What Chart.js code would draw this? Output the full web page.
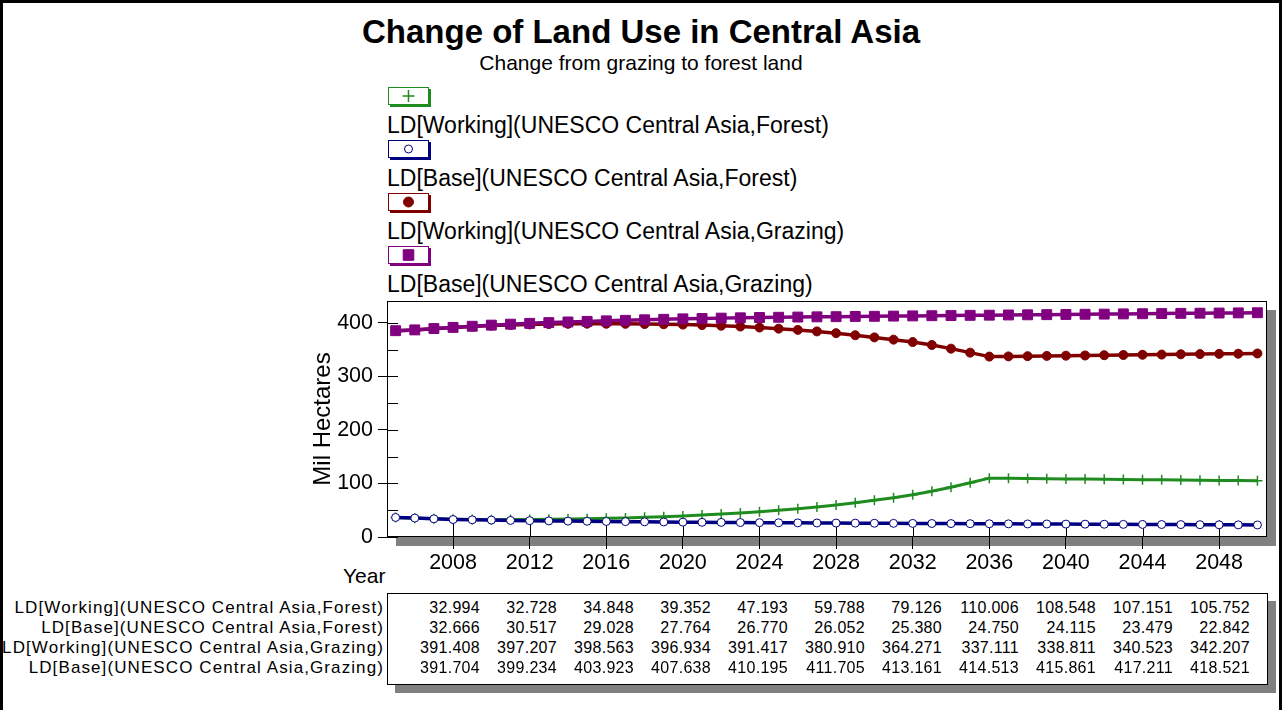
<!DOCTYPE html>
<html>
<head>
<meta charset="utf-8">
<title>Change of Land Use in Central Asia</title>
<script src="https://cdn.jsdelivr.net/npm/chart.js@4.4.1/dist/chart.umd.min.js"></script>
<style>
  body { margin: 0; background: #fff; }
  #page { position: relative; width: 1282px; height: 710px; overflow: hidden; background: #fff;
          font-family: Arial, "Liberation Sans", sans-serif; color: #000; }
  #frame { position: absolute; left: 0; top: 0; width: 1282px; height: 740px; box-sizing: border-box; border: 3px solid #000; }
  .txt { position: absolute; white-space: nowrap; }
  #title { left: 0; width: 1282px; text-align: center; top: 13px; font-size: 33px; font-weight: bold; line-height: 38px; }
  #subtitle { left: 0; width: 1282px; text-align: center; top: 50px; font-size: 21px; line-height: 26px; }
  .lgbox { position: absolute; left: 388px; width: 41px; height: 18px; background: #fff; box-sizing: border-box; }
  .lgtext { position: absolute; left: 387px; font-size: 23px; line-height: 26px; white-space: nowrap; }
  #yearlbl { left: 343px; top: 563px; font-size: 21px; line-height: 26px; }
  #table { position: absolute; left: 387px; top: 593px; width: 881px; height: 92px; box-sizing: border-box;
           border: 1px solid #000; background: #fff; box-shadow: 8px 8px 0 #808080; }
  .rowlbl { position: absolute; left: 0; width: 384px; text-align: right; font-size: 17px; line-height: 20px; letter-spacing: 1.1px; white-space: nowrap; }
  .cell { position: absolute; width: 90px; text-align: right; font-size: 16px; line-height: 20px; letter-spacing: 0.3px; white-space: nowrap; }
  #chart { position: absolute; left: 0; top: 0; }
</style>
</head>
<body>
<div id="page">
  <div id="frame"></div>
  <div class="txt" id="title">Change of Land Use in Central Asia</div>
  <div class="txt" id="subtitle">Change from grazing to forest land</div>
  <div id="legend"></div>
  <div class="txt" id="yearlbl">Year</div>
  <div id="table"></div>
  <div id="rows"></div>
  <canvas id="chart" width="1282" height="710"></canvas>
</div>
<script>
// years on the x axis
const years = [2005, 2006, 2007, 2008, 2009, 2010, 2011, 2012, 2013, 2014, 2015, 2016, 2017, 2018, 2019, 2020,
  2021, 2022, 2023, 2024, 2025, 2026, 2027, 2028, 2029, 2030, 2031, 2032, 2033, 2034, 2035, 2036,
  2037, 2038, 2039, 2040, 2041, 2042, 2043, 2044, 2045, 2046, 2047, 2048, 2049, 2050];

const seriesLabels = [
  'LD[Working](UNESCO Central Asia,Forest)',
  'LD[Base](UNESCO Central Asia,Forest)',
  'LD[Working](UNESCO Central Asia,Grazing)',
  'LD[Base](UNESCO Central Asia,Grazing)'
];

// Mil Hectares
const workingForest = [36.5, 35.2, 34.0, 32.994, 32.6, 32.4, 32.5, 32.728, 33.1, 33.6, 34.2, 34.848, 35.7, 36.8, 38.0, 39.352,
  41.0, 42.8, 44.9, 47.193, 49.8, 52.6, 56.0, 59.788, 64.0, 68.5, 73.5, 79.126, 85.5, 93.0, 101.5, 110.006,
  109.7, 109.3, 108.9, 108.548, 108.2, 107.8, 107.5, 107.151, 106.8, 106.4, 106.1, 105.752, 105.4, 105.1];
const baseForest = [36.5, 35.4, 34.0, 32.666, 32.1, 31.6, 31.0, 30.517, 30.1, 29.7, 29.4, 29.028, 28.7, 28.4, 28.1, 27.764,
  27.5, 27.3, 27.0, 26.770, 26.6, 26.4, 26.2, 26.052, 25.9, 25.7, 25.5, 25.380, 25.2, 25.1, 24.9, 24.750,
  24.6, 24.4, 24.3, 24.115, 24.0, 23.8, 23.6, 23.479, 23.3, 23.2, 23.0, 22.842, 22.7, 22.5];
const workingGrazing = [385.4, 387.0, 389.3, 391.408, 393.3, 395.0, 396.3, 397.207, 397.9, 398.4, 398.6, 398.563, 398.4, 398.0, 397.5, 396.934,
  396.0, 394.8, 393.3, 391.417, 389.3, 387.0, 384.2, 380.910, 377.0, 373.0, 368.8, 364.271, 358.8, 352.0, 344.5, 337.111,
  337.5, 337.9, 338.4, 338.811, 339.2, 339.7, 340.1, 340.523, 340.9, 341.4, 341.8, 342.207, 342.5, 342.9];
const baseGrazing = [385.5, 387.0, 389.5, 391.704, 393.8, 395.9, 397.7, 399.234, 400.6, 401.8, 402.9, 403.923, 404.9, 405.9, 406.8, 407.638,
  408.3, 409.0, 409.6, 410.195, 410.6, 411.0, 411.4, 411.705, 412.1, 412.4, 412.8, 413.161, 413.5, 413.8, 414.2, 414.513,
  414.9, 415.2, 415.5, 415.861, 416.2, 416.5, 416.9, 417.211, 417.5, 417.9, 418.2, 418.521, 418.8, 419.1];

const xTickValues = [2008, 2012, 2016, 2020, 2024, 2028, 2032, 2036, 2040, 2044, 2048];
const yTickValues = [0, 50, 100, 150, 200, 250, 300, 350, 400];
const tableYears = [2008, 2012, 2016, 2020, 2024, 2028, 2032, 2036, 2040, 2044, 2048];

const seriesData = [workingForest, baseForest, workingGrazing, baseGrazing];
const colors = ['#1f8c1f', '#000080', '#800000', '#800080'];
const styles = [
  { pointStyle: 'cross', radius: 5, legendRadius: 6, borderWidth: 1.5, lineWidth: 3 },
  { pointStyle: 'circle', radius: 4, legendRadius: 4, borderWidth: 1, lineWidth: 3.5 },
  { pointStyle: 'circle', radius: 4.5, legendRadius: 5, borderWidth: 1, lineWidth: 3.5 },
  { pointStyle: 'rect', radius: 7, legendRadius: 7.5, borderWidth: 1, lineWidth: 3.5 }
];
const drawOrder = [2, 0, 3, 1];

// legend
const legend = document.getElementById('legend');
seriesLabels.forEach((label, i) => {
  const box = document.createElement('div');
  box.className = 'lgbox';
  box.style.top = (87 + i * 53) + 'px';
  box.style.border = '1px solid ' + colors[i];
  box.style.boxShadow = '2px 2px 0 ' + colors[i];
  const c = document.createElement('canvas');
  c.width = 39; c.height = 16;
  box.appendChild(c);
  legend.appendChild(box);
  const ctx = c.getContext('2d');
  ctx.strokeStyle = colors[i];
  ctx.fillStyle = i === 1 ? '#fff' : colors[i];
  ctx.lineWidth = styles[i].borderWidth;
  Chart.helpers.drawPoint(ctx, { pointStyle: styles[i].pointStyle, rotation: 0, radius: styles[i].legendRadius, borderWidth: styles[i].borderWidth }, 19.5, 8);

  const t = document.createElement('div');
  t.className = 'lgtext';
  t.style.top = (112 + i * 53) + 'px';
  t.textContent = label;
  legend.appendChild(t);
});

// data table under the chart
const rows = document.getElementById('rows');
seriesLabels.forEach((label, r) => {
  const top = 598 + r * 20;
  const l = document.createElement('div');
  l.className = 'rowlbl';
  l.style.top = top + 'px';
  l.textContent = label;
  rows.appendChild(l);
  tableYears.forEach((yr, c) => {
    const d = document.createElement('div');
    d.className = 'cell';
    d.style.top = top + 'px';
    d.style.left = (480 + c * 77 - 90) + 'px';
    d.textContent = seriesData[r][years.indexOf(yr)].toFixed(3);
    rows.appendChild(d);
  });
});

const framePlugin = {
  id: 'frame',
  beforeDraw(chart) {
    const { ctx, chartArea: a } = chart;
    ctx.save();
    ctx.fillStyle = '#808080';
    ctx.fillRect(a.left + 9, a.top + 9, a.right - a.left, a.bottom - a.top);
    ctx.fillStyle = '#fff';
    ctx.fillRect(a.left, a.top, a.right - a.left, a.bottom - a.top);
    ctx.restore();
  },
  beforeDatasetsDraw(chart) {
    const { ctx, chartArea: a, scales: { x, y } } = chart;
    ctx.save();
    ctx.strokeStyle = '#000';
    ctx.lineWidth = 1;
    ctx.strokeRect(a.left + 0.5, a.top + 0.5, a.right - a.left - 1, a.bottom - a.top - 1);
    ctx.beginPath();
    yTickValues.forEach(v => {
      const py = Math.round(y.getPixelForValue(v)) + 0.5;
      ctx.moveTo(a.left, py);
      ctx.lineTo(a.left + 11, py);
    });
    xTickValues.forEach(v => {
      const px = Math.round(x.getPixelForValue(v)) + 0.5;
      ctx.moveTo(px, a.bottom);
      ctx.lineTo(px, a.bottom - 17);
    });
    ctx.stroke();
    ctx.restore();
  }
};

Chart.defaults.font.family = 'Arial, "Liberation Sans", sans-serif';
Chart.defaults.color = '#000';

new Chart(document.getElementById('chart').getContext('2d'), {
  type: 'line',
  data: {
    datasets: seriesData.map((vals, i) => ({
      label: seriesLabels[i],
      data: vals.map((v, k) => ({ x: years[k], y: v })),
      borderColor: colors[i],
      backgroundColor: i === 1 ? '#fff' : colors[i],
      borderWidth: styles[i].lineWidth,
      pointStyle: styles[i].pointStyle,
      pointRadius: styles[i].radius,
      pointBorderWidth: styles[i].borderWidth,
      pointBorderColor: colors[i],
      pointBackgroundColor: i === 1 ? '#fff' : colors[i],
      tension: 0,
      fill: false,
      order: drawOrder[i]
    }))
  },
  options: {
    responsive: false,
    animation: false,
    layout: { padding: { left: 300, right: 15, top: 301, bottom: 133 } },
    plugins: { legend: { display: false }, tooltip: { enabled: false } },
    scales: {
      x: {
        type: 'linear',
        min: 2004.55,
        max: 2050.5,
        afterBuildTicks: scale => { scale.ticks = xTickValues.map(v => ({ value: v })); },
        afterFit: scale => { scale.height = 40; },
        ticks: { font: { size: 21.5 }, padding: 1, maxRotation: 0, autoSkip: false, callback: v => String(v) },
        grid: { drawOnChartArea: false, tickLength: 12, color: '#000' },
        border: { display: false }
      },
      y: {
        min: 0,
        max: 441,
        afterBuildTicks: scale => { scale.ticks = yTickValues.map(v => ({ value: v })); },
        afterFit: scale => { scale.width = 87; },
        ticks: { font: { size: 21.5 }, padding: 5, autoSkip: false, callback: v => (v % 100 === 0 ? String(v) : '') },
        grid: {
          drawOnChartArea: false,
          tickLength: 9,
          color: '#000',
          tickColor: c => (c.tick && c.tick.value % 100 === 0 ? '#000' : 'rgba(0,0,0,0)')
        },
        border: { display: false },
        title: { display: true, text: 'Mil Hectares', font: { size: 24 }, padding: { top: 9, bottom: 0 } }
      }
    }
  },
  plugins: [framePlugin]
});
</script>
</body>
</html>
